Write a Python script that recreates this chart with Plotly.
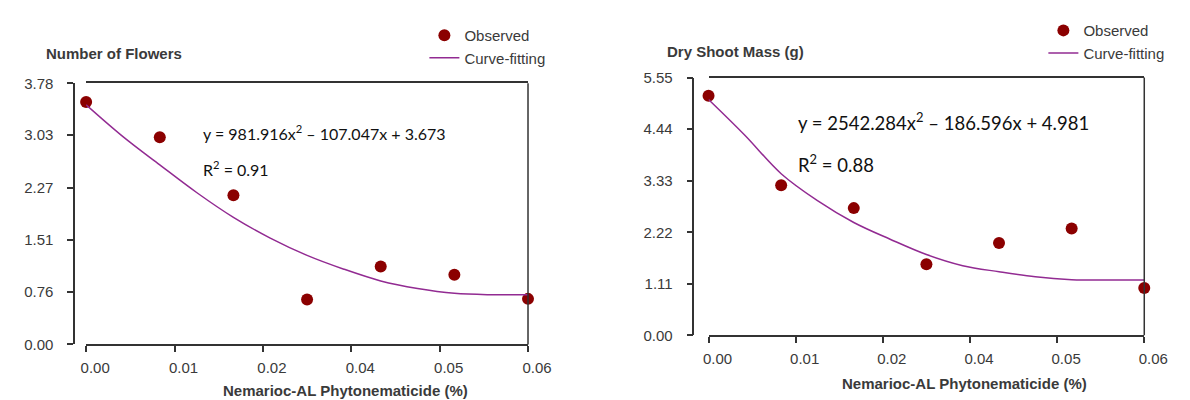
import plotly.graph_objects as go

# ---------------- data ----------------
conc = [0.0, 0.01, 0.02, 0.03, 0.04, 0.05, 0.06]
flowers_obs = [3.51, 3.00, 2.16, 0.65, 1.13, 1.01, 0.66]
shoot_obs = [5.16, 3.23, 2.74, 1.53, 1.99, 2.30, 1.02]

curve_x = [0.0, 0.005, 0.01, 0.015, 0.02, 0.025, 0.03, 0.035, 0.04, 0.045, 0.05, 0.055, 0.06]
flowers_fit = [3.47, 3.01, 2.60, 2.20, 1.84, 1.54, 1.29, 1.09, 0.92, 0.81, 0.74, 0.72, 0.72]
shoot_fit = [5.08, 4.31, 3.48, 2.90, 2.43, 2.07, 1.74, 1.50, 1.37, 1.26, 1.20, 1.19, 1.19]

x_tickvals = [0.0, 0.012, 0.024, 0.036, 0.048, 0.06]
x_ticktext = ["0.00", "0.01", "0.02", "0.04", "0.05", "0.06"]
flowers_ticks = [0.00, 0.76, 1.51, 2.27, 3.03, 3.78]
shoot_ticks = [0.00, 1.11, 2.22, 3.33, 4.44, 5.55]

eq_left = "y = 981.916x<sup>2</sup> – 107.047x + 3.673"
r2_left = "R<sup>2</sup> = 0.91"
eq_right = "y = 2542.284x<sup>2</sup> – 186.596x + 4.981"
r2_right = "R<sup>2</sup> = 0.88"

# ---------------- style ----------------
W, H = 1190, 400
MARK = "#8b0000"
LINE = "#922b92"
AX = "#333333"
TXT = "#3a3a3a"
FONT = "Liberation Sans, Arial, sans-serif"
EQFONT = "Lato, sans-serif"

def px(x):
    return x / W

def py(y):
    return 1 - y / H

fig = go.Figure()

fig.add_trace(go.Scatter(x=conc, y=flowers_obs, mode="markers", name="Observed",
                         marker=dict(color=MARK, size=12), cliponaxis=False,
                         xaxis="x", yaxis="y", legend="legend"))
fig.add_trace(go.Scatter(x=curve_x, y=flowers_fit, mode="lines", name="Curve-fitting",
                         line=dict(color=LINE, width=1.5, shape="spline"),
                         xaxis="x", yaxis="y", legend="legend"))
fig.add_trace(go.Scatter(x=conc, y=shoot_obs, mode="markers", name="Observed",
                         marker=dict(color=MARK, size=12), cliponaxis=False,
                         xaxis="x2", yaxis="y2", legend="legend2"))
fig.add_trace(go.Scatter(x=curve_x, y=shoot_fit, mode="lines", name="Curve-fitting",
                         line=dict(color=LINE, width=1.5, shape="spline"),
                         xaxis="x2", yaxis="y2", legend="legend2"))

xcommon = dict(range=[0, 0.06], tickvals=x_tickvals, ticktext=x_ticktext,
               showline=True, linecolor=AX, linewidth=1.5, mirror=True,
               ticks="outside", ticklen=6, tickwidth=1.5, tickcolor=AX,
               ticklabelshift=9, ticklabelstandoff=3,
               tickfont=dict(family=FONT, size=15, color=TXT),
               showgrid=False, zeroline=False, fixedrange=True)
ycommon = dict(showline=True, linecolor=AX, linewidth=1.5,
               ticks="outside", ticklen=6, tickwidth=1.5, tickcolor=AX,
               tickformat=".2f", ticklabelstandoff=11,
               tickfont=dict(family=FONT, size=15, color=TXT),
               showgrid=False, zeroline=False, fixedrange=True, anchor="free")

L_x0, L_x1, L_ytop, L_ybot, L_yax = 74, 527.3, 69.3, 342, 61.7
R_x0, R_x1, R_ytop, R_ybot, R_yax = 712.5, 1159.5, 63.3, 332.5, 697

fig.update_layout(
    width=W, height=H,
    margin=dict(l=0, r=0, t=0, b=0),
    paper_bgcolor="white", plot_bgcolor="white",
    font=dict(family=FONT, color=TXT),
    xaxis=dict(domain=[px(L_x0), px(L_x1)], anchor="y", **xcommon),
    yaxis=dict(domain=[py(L_ybot), py(L_ytop)], range=[0, 3.78],
               tickvals=flowers_ticks, position=px(L_yax), **ycommon),
    xaxis2=dict(domain=[px(R_x0), px(R_x1)], anchor="y2", **xcommon),
    yaxis2=dict(domain=[py(R_ybot), py(R_ytop)], range=[0, 5.55],
                tickvals=shoot_ticks, position=px(R_yax), **ycommon),
    legend=dict(x=px(421), y=py(2), xanchor="left", yanchor="top",
                bgcolor="rgba(0,0,0,0)", font=dict(family=FONT, size=15, color=TXT),
                tracegroupgap=0),
    legend2=dict(x=px(1056), y=py(-3), xanchor="left", yanchor="top",
                 bgcolor="rgba(0,0,0,0)", font=dict(family=FONT, size=15, color=TXT),
                 tracegroupgap=0),
    showlegend=True,
)

# right borders of the frames
for xr, yr in (("x domain", "y domain"), ("x2 domain", "y2 domain")):
    fig.add_shape(type="line", xref=xr, yref=yr, x0=1, x1=1, y0=0, y1=1,
                  line=dict(color=AX, width=1.5), layer="above")

def ann(text, x, y, size, xanchor="left", bold=False, family=FONT, color=TXT):
    fig.add_annotation(text=f"<b>{text}</b>" if bold else text,
                       xref="paper", yref="paper", x=px(x), y=py(y),
                       xanchor=xanchor, yanchor="middle", showarrow=False,
                       font=dict(family=family, size=size, color=color))

# axis titles
ann("Number of Flowers", 31, 38, 15, bold=True)
ann("Dry Shoot Mass (g)", 668, 36, 15, bold=True)
ann("Nemarioc-AL Phytonematicide (%)", 340, 390, 15, xanchor="center", bold=True)
ann("Nemarioc-AL Phytonematicide (%)", 975, 383, 15, xanchor="center", bold=True)

# equations
ann(eq_left, 191.5, 121, 16, family=EQFONT, color="#111111")
ann(r2_left, 191.5, 158, 16, family=EQFONT, color="#111111")
ann(eq_right, 802, 109, 18.5, family=EQFONT, color="#111111")
ann(r2_right, 802, 153, 18.5, family=EQFONT, color="#111111")

fig.write_html("out.html")
